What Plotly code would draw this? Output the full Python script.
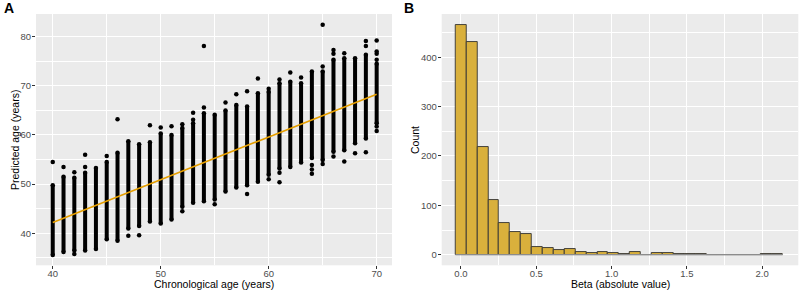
import plotly.graph_objects as go

# ---------------- Panel A data ----------------
ages = list(range(40, 71))
dense_low = [35.6, 36.2, 36.5, 36.5, 36.8, 38.8, 38.5, 41.0, 41.5, 42.4, 42.0, 42.8, 45.4, 46.2, 46.5, 46.9,
             48.5, 49.3, 49.8, 50.5, 51.9, 53.2, 53.5, 54.4, 55.3, 54.9, 56.6, 56.9, 58.3, 59.3, 62.4]
dense_high = [49.8, 51.5, 51.3, 52.3, 53.3, 54.5, 56.4, 58.7, 58.1, 58.5, 60.3, 60.0, 61.4, 62.4, 64.4, 64.1,
              65.0, 66.1, 65.8, 68.5, 68.8, 70.5, 70.8, 70.5, 72.9, 72.9, 75.3, 75.6, 75.6, 76.3, 74.5]
outlier_age = [40, 41, 42, 42, 43, 43, 45, 46, 47, 48, 49, 50, 51, 52, 52, 53, 53, 54, 54, 55, 56, 57, 58, 58,
               59, 60, 60, 61, 61, 61, 62, 63, 64, 64, 64, 65, 65, 65, 66, 66, 66, 67, 67, 68, 69, 69, 69,
               70, 70, 70, 70, 70, 70]
outlier_value = [54.5, 53.5, 52.4, 35.8, 53.5, 56.0, 55.7, 63.2, 39.5, 39.6, 62.0, 61.5, 61.8, 62.2, 44.5, 63.1,
                 64.5, 65.6, 78.1, 45.9, 66.6, 68.3, 48.0, 68.9, 71.5, 51.0, 69.4, 71.3, 52.3, 50.4, 72.7, 71.7,
                 53.9, 53.0, 52.1, 73.9, 82.4, 54.1, 76.5, 77.3, 55.6, 76.6, 54.6, 56.3, 78.1, 79.1, 56.5,
                 75.3, 76.5, 77.0, 79.2, 61.7, 60.8]
fit_age = [40, 70]
fit_pred = [42.2, 68.3]

# ---------------- Panel B data ----------------
bin_centers = [0.0, 0.0724, 0.1448, 0.2172, 0.2896, 0.362, 0.4344, 0.5068, 0.5792, 0.6516, 0.724, 0.7964,
               0.8688, 0.9412, 1.0136, 1.086, 1.1584, 1.2308, 1.3032, 1.3756, 1.448, 1.5204, 1.5928, 1.6652,
               1.7376, 1.81, 1.8824, 1.9548, 2.0272, 2.0996]
counts = [465, 430, 218, 111, 64, 45, 41, 15, 13, 10, 12, 6, 3, 5, 3, 1, 5, 0, 3, 3, 2, 1, 1, 0, 0, 0, 0, 0, 1, 1]
bin_width = 0.0724

# ---------------- build ----------------
col_x, col_y = [], []
for a, lo, hi in zip(ages, dense_low, dense_high):
    col_x += [a, a, None]
    col_y += [lo, hi, None]

fig = go.Figure()
fig.add_trace(go.Scatter(x=col_x, y=col_y, mode="lines+markers",
                         line=dict(color="black", width=4),
                         marker=dict(color="black", size=4.5),
                         xaxis="x", yaxis="y", hoverinfo="skip"))
fig.add_trace(go.Scatter(x=outlier_age, y=outlier_value, mode="markers",
                         marker=dict(color="black", size=4.5),
                         xaxis="x", yaxis="y"))
fig.add_trace(go.Scatter(x=fit_age, y=fit_pred, mode="lines",
                         line=dict(color="#E69F00", width=1.6),
                         xaxis="x", yaxis="y"))

edge_lo = bin_centers[0] - bin_width / 2
edge_hi = bin_centers[-1] + bin_width / 2
fig.add_trace(go.Scatter(x=[edge_lo, edge_hi], y=[0, 0], mode="lines",
                         line=dict(color="#8C8C8C", width=1.2),
                         xaxis="x2", yaxis="y2"))
fig.add_trace(go.Bar(x=bin_centers, y=counts, width=bin_width,
                     marker=dict(color="#D9B03C", line=dict(color="#333333", width=0.9)),
                     xaxis="x2", yaxis="y2"))

def axis_style(standoff):
    return dict(showgrid=True, gridcolor="white", gridwidth=1.1, zeroline=False, showline=False,
                ticks="outside", ticklen=3, tickwidth=1, tickcolor="#333333",
                ticklabelstandoff=standoff,
                tickfont=dict(family="Liberation Sans, Arial", size=9.5, color="#4D4D4D"))

ydom = [(292 - 265.3) / 292, (292 - 14) / 292]
fig.update_layout(
    width=800, height=292,
    margin=dict(l=0, r=0, t=0, b=0),
    paper_bgcolor="white", plot_bgcolor="#EBEBEB",
    showlegend=False, bargap=0,
    font=dict(family="Liberation Sans, Arial", color="black"),
    xaxis=dict(domain=[36 / 800, 392 / 800], range=[38.45, 71.42], tickvals=[40, 50, 60, 70],
               minor=dict(tickvals=[45, 55, 65], showgrid=True, gridcolor="white", gridwidth=0.5, ticks=""),
               anchor="y", **axis_style(-4)),
    yaxis=dict(domain=ydom, range=[33.5, 84.6], tickvals=[40, 50, 60, 70, 80],
               minor=dict(tickvals=[35, 45, 55, 65, 75], showgrid=True, gridcolor="white", gridwidth=0.5, ticks=""),
               anchor="x", **axis_style(-1)),
    xaxis2=dict(domain=[441.7 / 800, 798.3 / 800], range=[-0.128, 2.24],
                tickvals=[0, 0.5, 1.0, 1.5, 2.0], ticktext=["0.0", "0.5", "1.0", "1.5", "2.0"],
                minor=dict(tickvals=[0.25, 0.75, 1.25, 1.75], showgrid=True, gridcolor="white", gridwidth=0.5, ticks=""),
                anchor="y2", **axis_style(-4)),
    yaxis2=dict(domain=ydom, range=[-21.5, 487.7], tickvals=[0, 100, 200, 300, 400],
                minor=dict(tickvals=[50, 150, 250, 350, 450], showgrid=True, gridcolor="white", gridwidth=0.5, ticks=""),
                anchor="x2", **axis_style(-1)),
)

title_font = dict(family="Liberation Sans, Arial", size=10.5, color="black")
ann = [
    dict(text="Chronological age (years)", x=(36 + 392) / 2 / 800, y=(292 - 283.5) / 292, showarrow=False,
         xanchor="center", yanchor="middle", font=title_font),
    dict(text="Predicted age (years)", x=15 / 800, y=(292 - 140) / 292, showarrow=False, textangle=-90,
         xanchor="center", yanchor="middle", font=title_font),
    dict(text="Beta (absolute value)", x=(441.7 + 798.3) / 2 / 800, y=(292 - 283.5) / 292, showarrow=False,
         xanchor="center", yanchor="middle", font=title_font),
    dict(text="Count", x=415 / 800, y=(292 - 140) / 292, showarrow=False, textangle=-90,
         xanchor="center", yanchor="middle", font=title_font),
    dict(text="<b>A</b>", x=2 / 800, y=(292 - 8) / 292, showarrow=False, xanchor="left", yanchor="middle",
         font=dict(family="Liberation Sans, Arial", size=14, color="black")),
    dict(text="<b>B</b>", x=402 / 800, y=(292 - 8) / 292, showarrow=False, xanchor="left", yanchor="middle",
         font=dict(family="Liberation Sans, Arial", size=14, color="black")),
]
for a in ann:
    a.update(xref="paper", yref="paper")
fig.update_layout(annotations=ann)

fig.write_html("out.html", config={"displayModeBar": False},
               post_script="document.body.style.margin='0';document.body.style.overflow='hidden';")
